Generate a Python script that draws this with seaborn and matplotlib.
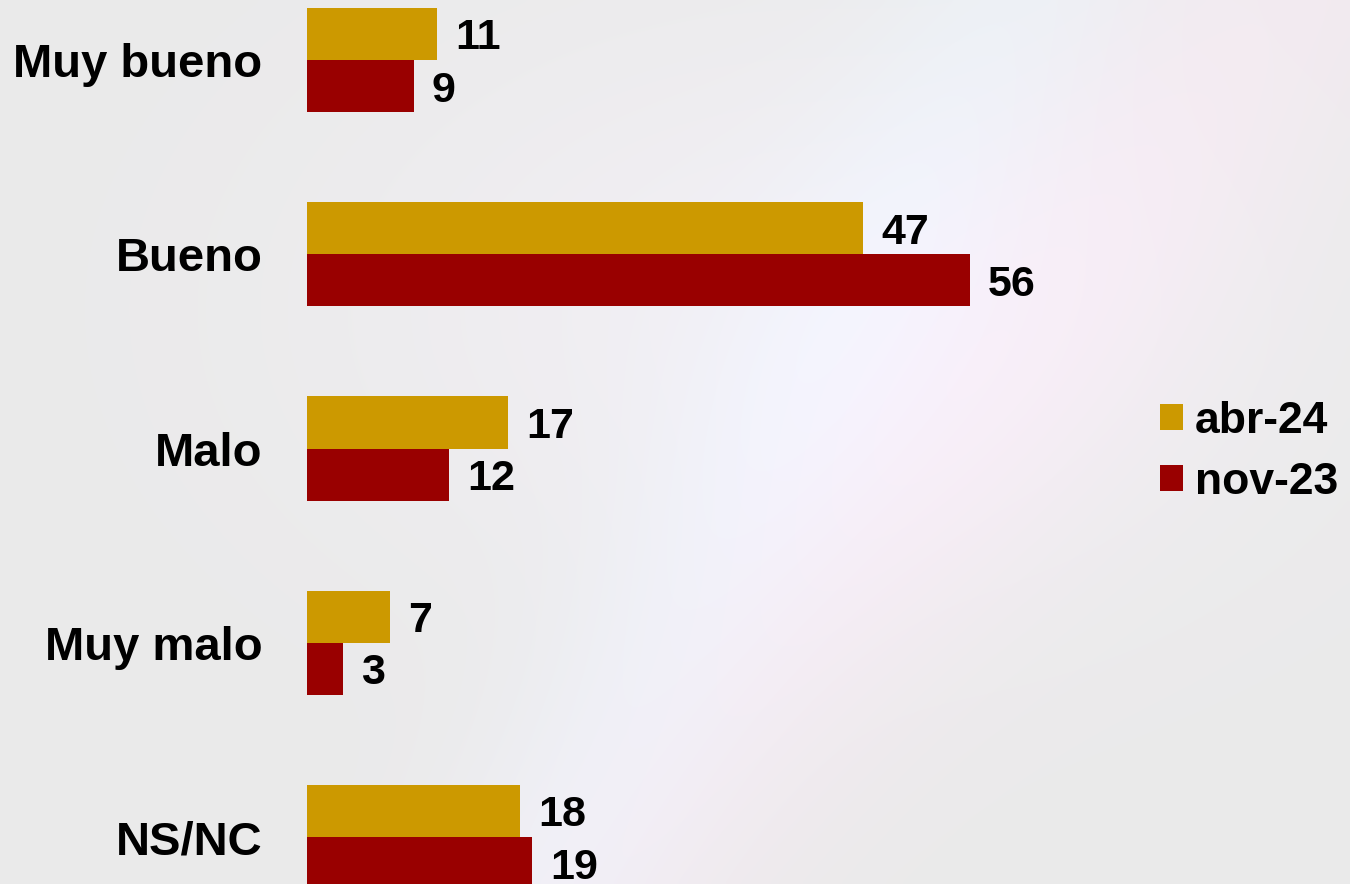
import numpy as np
import pandas as pd
import matplotlib
matplotlib.use("Agg")
import matplotlib.pyplot as plt
import seaborn as sns

# Data
categories = ['Muy bueno', 'Bueno', 'Malo', 'Muy malo', 'NS/NC']
abr_24 = [11, 47, 17, 7, 18]
nov_23 = [9, 56, 12, 3, 19]
series_names = ['abr-24', 'nov-23']
colors = ['#CC9900', '#990000']


def build_frame():
    rows = []
    for name, vals in zip(series_names, [abr_24, nov_23]):
        for cat, v in zip(categories, vals):
            rows.append({'categoria': cat, 'serie': name, 'valor': v})
    return pd.DataFrame(rows)


def draw_background(fig):
    # soft light-grey backdrop with faint pastel streaks
    bg = fig.add_axes([0, 0, 1, 1], zorder=-10)
    h, w = 200, 300
    yy, xx = np.mgrid[0:1:h * 1j, 0:1:w * 1j]
    img = np.ones((h, w, 3)) * 0.918
    streak1 = np.exp(-((xx - 0.75 + 0.35 * yy) ** 2) / 0.01)
    streak2 = np.exp(-((xx - 0.95 + 0.5 * yy) ** 2) / 0.02)
    glow = np.exp(-((xx - 0.6) ** 2 + (yy - 0.35) ** 2) / 0.12)
    img[..., 0] += 0.03 * glow + 0.03 * streak2
    img[..., 1] += 0.02 * glow + 0.02 * streak1
    img[..., 2] += 0.04 * glow + 0.03 * streak1 + 0.02 * streak2
    img = np.clip(img, 0, 1)
    bg.imshow(img, aspect='auto', extent=[0, 1, 0, 1], interpolation='bicubic')
    bg.axis('off')


def main():
    df = build_frame()
    sns.set_style('white')
    plt.rcParams['font.family'] = ['Liberation Sans', 'DejaVu Sans']
    plt.rcParams['text.color'] = 'black'
    plt.rcParams['ytick.color'] = 'black'

    fig = plt.figure(figsize=(13.5, 8.84), dpi=100)
    draw_background(fig)

    left = 307 / 1350
    ax = fig.add_axes([left, 0, 1 - left, 1])
    ax.patch.set_alpha(0)

    sns.barplot(data=df, y='categoria', x='valor', hue='serie',
                hue_order=series_names, order=categories,
                palette=colors, orient='h', width=0.536, gap=0,
                saturation=1, linewidth=0, ax=ax, legend=True)

    px_per_unit = 11.84
    ax.set_xlim(0, (1350 - 307) / px_per_unit)
    ax.set_ylim((884 - 60) / 194.25, -60 / 194.25)

    for cont in ax.containers:
        texts = ax.bar_label(cont, padding=13, fontsize=31, fontweight='bold',
                             color='black')
        for t in texts:
            t.set_va('center_baseline')

    ax.set_xlabel('')
    ax.set_ylabel('')
    ax.set_xticks([])
    ax.tick_params(axis='y', length=0, pad=32, labelcolor='black')
    for lbl in ax.get_yticklabels():
        lbl.set_fontsize(34)
        lbl.set_fontweight('bold')
    for s in ax.spines.values():
        s.set_visible(False)

    handles, labels = ax.get_legend_handles_labels()
    ax.get_legend().remove()
    fig.legend(handles, labels, loc='center left',
               bbox_to_anchor=(1160 / 1350, 1 - 452 / 884),
               frameon=False, prop={'size': 32, 'weight': 'bold'},
               labelcolor='black',
               handlelength=0.52, handleheight=0.52,
               handletextpad=0.26, labelspacing=0.45, borderpad=0,
               borderaxespad=0)

    fig.savefig('out.png', dpi=100)


if __name__ == "__main__":
    main()
